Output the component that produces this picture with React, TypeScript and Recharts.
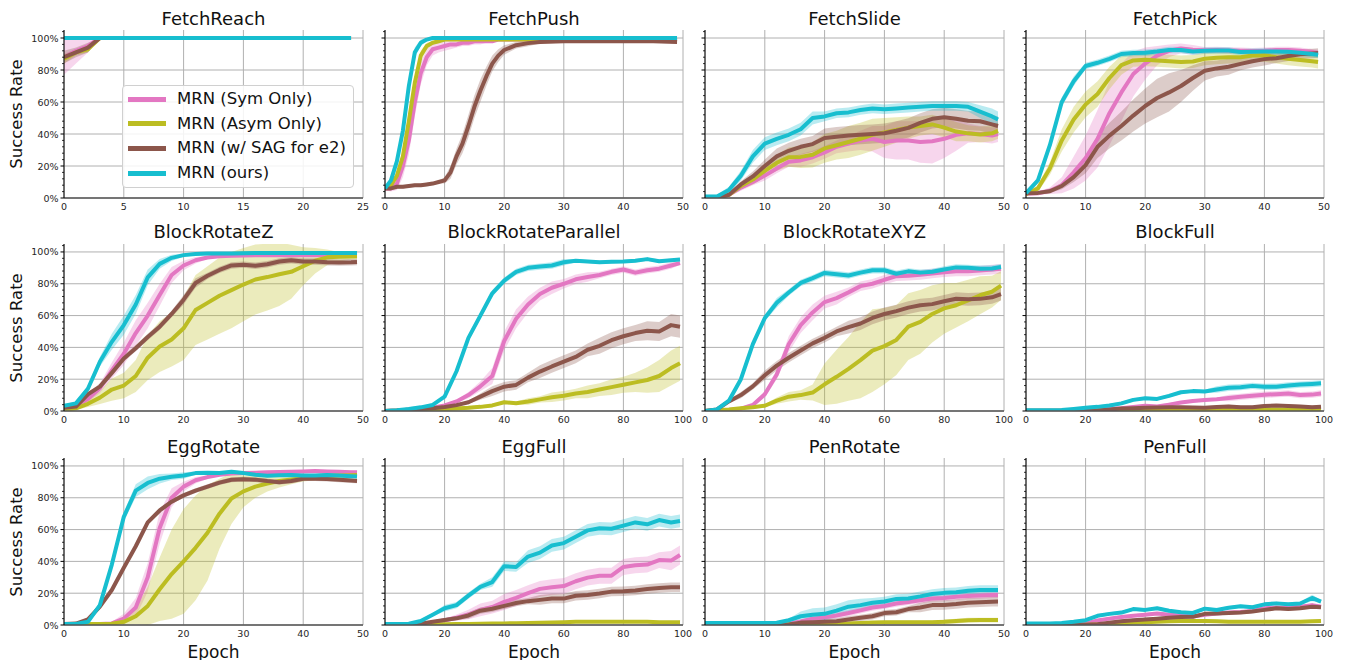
import React from 'react';
import { ComposedChart, Line, Area, XAxis, YAxis, CartesianGrid } from 'recharts';

const FONT = '"DejaVu Sans", "Liberation Sans", sans-serif';

const seriesNames = ['MRN (Sym Only)', 'MRN (Asym Only)', 'MRN (w/ SAG for e2)', 'MRN (ours)'];
const seriesColors = ['#e377c2', '#bcbd22', '#8c564b', '#17becf'];
const taskNames = [
  'FetchReach', 'FetchPush', 'FetchSlide', 'FetchPick',
  'BlockRotateZ', 'BlockRotateParallel', 'BlockRotateXYZ', 'BlockFull',
  'EggRotate', 'EggFull', 'PenRotate', 'PenFull',
];

const yMajorTicks = [0, 20, 40, 60, 80, 100];
const yAllTicks = [0, 4, 8, 12, 16, 20, 24, 28, 32, 36, 40, 44, 48, 52, 56, 60, 64, 68, 72, 76, 80, 84, 88, 92, 96, 100, 104];
const xTicks25 = [0, 5, 10, 15, 20, 25];
const xTicks50 = [0, 10, 20, 30, 40, 50];
const xTicks100 = [0, 20, 40, 60, 80, 100];

const grid50 = [0, 2, 4, 6, 8, 10, 12, 14, 16, 18, 20, 22, 24, 26, 28, 30, 32, 34, 36, 38, 40, 42, 44, 46, 48, 49];
const grid100 = [0, 4, 8, 12, 16, 20, 24, 28, 32, 36, 40, 44, 48, 52, 56, 60, 64, 68, 72, 76, 80, 84, 88, 92, 96, 99];

// FetchReach
const fetchReachEpochs = [0, 1, 2, 3, 4, 8, 12, 16, 20, 24];
const fetchReachSym = [88, 92, 95, 100, 100, 100, 100, 100, 100, 100];
const fetchReachSymBand = [11, 8, 4, 0, 0, 0, 0, 0, 0, 0];
const fetchReachAsym = [87, 91, 93, 100, 100, 100, 100, 100, 100, 100];
const fetchReachAsymBand = [3, 2, 2, 0, 0, 0, 0, 0, 0, 0];
const fetchReachSag = [88, 91, 94, 100, 100, 100, 100, 100, 100, 100];
const fetchReachSagBand = [4, 3, 3, 0, 0, 0, 0, 0, 0, 0];
const fetchReachOurs = [100, 100, 100, 100, 100, 100, 100, 100, 100, 100];
const fetchReachOursBand = [0, 0, 0, 0, 0, 0, 0, 0, 0, 0];

// FetchPush
const fetchPushEpochs = [0, 1, 2, 3, 4, 5, 6, 7, 8, 9, 10, 11, 12, 13, 14, 15, 16, 17, 18, 19, 20, 22, 24, 26, 30, 35, 40, 45, 49];
const fetchPushSym = [6, 6, 9, 20, 36, 60, 78, 88, 93, 94, 95, 96, 96, 97, 97, 98, 98, 98, 98, 99, 99, 99, 99, 99, 99, 99, 99, 99, 99];
const fetchPushSymBand = [1, 2, 4, 7, 9, 9, 7, 5, 4, 3, 3, 3, 2, 2, 2, 2, 2, 1, 1, 1, 1, 1, 1, 1, 1, 1, 1, 1, 1];
const fetchPushAsym = [6, 8, 14, 26, 48, 72, 89, 95, 97, 98, 99, 99, 99, 99, 99, 99, 99, 99, 99, 99, 99, 99, 99, 99, 99, 99, 99, 99, 99];
const fetchPushAsymBand = [1, 1, 2, 3, 4, 4, 3, 2, 1, 1, 1, 1, 1, 1, 1, 1, 1, 1, 1, 1, 1, 1, 1, 1, 1, 1, 1, 1, 1];
const fetchPushSag = [6, 6, 7, 7, 7.5, 8, 8, 8.5, 9, 10, 11, 16, 26, 34, 45, 57, 67, 76, 84, 89, 92.5, 95.5, 96.8, 97.5, 98, 98, 98, 98, 97.5];
const fetchPushSagBand = [1, 1, 1, 1, 1, 1, 1, 1, 1, 1, 2, 4, 5, 6, 7, 7, 7, 6, 5, 4, 3, 2, 2, 1, 1, 1, 1, 1, 1];
const fetchPushOurs = [6, 11, 23, 42, 70, 91, 97, 99, 100, 100, 100, 100, 100, 100, 100, 100, 100, 100, 100, 100, 100, 100, 100, 100, 100, 100, 100, 100, 100];
const fetchPushOursBand = [1, 2, 3, 4, 4, 3, 2, 1, 0, 0, 0, 0, 0, 0, 0, 0, 0, 0, 0, 0, 0, 0, 0, 0, 0, 0, 0, 0, 0];

// FetchSlide
const fetchSlideSym = [0, 0, 2, 6.5, 10, 14, 18.4, 22.6, 23.5, 25.5, 28.5, 32, 34, 36, 37, 35, 36, 36, 35, 35.5, 37, 39.5, 40.5, 40, 39, 40];
const fetchSlideSymBand = [0, 0, 1, 2, 2, 3, 3, 3, 4, 4, 4, 4, 5, 6, 8, 10, 12, 12, 13, 14, 12, 10, 6, 5, 5, 5];
const fetchSlideAsym = [0, 0, 2, 7.5, 11.5, 17, 22, 25.5, 25.7, 27, 31, 33, 35, 37, 39.5, 41, 42.5, 44, 45, 46, 44, 41.5, 40.4, 39.7, 40.4, 42];
const fetchSlideAsymBand = [0, 0, 1, 2, 3, 4, 5, 6, 7, 8, 9, 9, 10, 10, 10, 9, 8, 7, 6, 6, 6, 6, 5, 5, 5, 5];
const fetchSlideSag = [0, 0, 2, 8.5, 13.5, 20, 26, 29.5, 32, 33.7, 37.5, 38.3, 39, 39.6, 40, 40.5, 42, 43.8, 47, 49.5, 50.4, 49.5, 48.3, 48, 46, 45];
const fetchSlideSagBand = [0, 0, 1, 2, 3, 4, 5, 5, 5, 5, 6, 6, 6, 6, 6, 6, 6, 6, 6, 6, 6, 6, 6, 6, 6, 6];
const fetchSlideOurs = [1, 1, 5, 14, 26, 34, 37, 39.5, 43, 50, 51, 53, 53.5, 55, 56, 55.5, 56, 56.5, 57, 57.5, 57.5, 57.5, 57, 54, 51, 49];
const fetchSlideOursBand = [1, 1, 2, 3, 4, 4, 4, 4, 4, 4, 3, 3, 3, 3, 3, 3, 3, 3, 3, 3, 3, 3, 3, 4, 5, 5];

// FetchPick
const fetchPickSym = [2.7, 3, 4.5, 8, 16, 25, 37, 53, 66, 77.5, 84, 89, 92, 93.5, 92.6, 92.3, 92.5, 92.2, 92, 91.8, 92, 92.5, 92.5, 92, 91.2, 90.6];
const fetchPickSymBand = [1, 1, 2, 5, 10, 14, 18, 20, 18, 14, 10, 6, 4, 3, 3, 2, 2, 2, 2, 2, 2, 2, 2, 2, 2, 2];
const fetchPickAsym = [2.3, 6, 18.4, 36, 49, 58.5, 65, 75, 83, 86, 86.4, 86, 85.5, 85, 85.3, 87, 87.6, 88, 88, 89, 89.2, 88, 87, 86.2, 85.5, 85];
const fetchPickAsymBand = [1, 2, 4, 7, 8, 8, 8, 7, 6, 4, 4, 4, 4, 4, 4, 4, 4, 4, 4, 4, 4, 4, 4, 4, 4, 4];
const fetchPickSag = [3, 3.2, 4.2, 7.5, 13, 20.5, 32, 39, 45, 51.5, 57.5, 62.5, 66, 70, 75, 79.5, 81, 82, 83.8, 85.5, 86.8, 87.4, 88.7, 89.8, 90.3, 90.6];
const fetchPickSagBand = [1, 1, 1, 2, 3, 5, 7, 8, 9, 10, 11, 12, 12, 10, 8, 6, 5, 5, 4, 4, 4, 3, 3, 3, 3, 3];
const fetchPickOurs = [3, 11, 33, 60, 73, 82.5, 84.5, 87, 90, 90.6, 90.8, 91.5, 92.5, 92.5, 91.6, 92, 92.2, 92.2, 91.2, 91.4, 91.6, 91.6, 91.4, 90.8, 90, 89.5];
const fetchPickOursBand = [1, 2, 3, 3, 3, 2, 2, 2, 2, 2, 2, 2, 2, 2, 2, 2, 2, 2, 2, 2, 2, 2, 2, 2, 2, 2];

// BlockRotateZ
const blockZSym = [3, 3.5, 7.5, 14.3, 25.5, 36, 49, 60, 73, 85.5, 91.5, 94.8, 96.5, 97.3, 97.6, 97.8, 98, 98, 98, 98, 98, 98, 98, 98, 98, 98];
const blockZSymBand = [1, 1, 2, 3, 5, 7, 8, 8, 7, 5, 3, 2, 1, 1, 1, 1, 1, 1, 1, 1, 1, 1, 1, 1, 1, 1];
const blockZAsym = [0.6, 1.7, 4.5, 8.4, 13.5, 16, 22, 33.5, 40.5, 45, 52, 63.5, 68, 72.5, 76, 79.5, 82.7, 84.2, 86, 87.5, 91, 94.5, 96.6, 97, 97.2, 97.3];
const blockZAsymBand = [1, 1, 2, 4, 7, 8, 10, 14, 16, 17, 20, 22, 23, 24, 24, 23, 22, 21, 20, 17, 12, 8, 5, 3, 2, 2];
const blockZSag = [2, 2.8, 10.5, 15.3, 24, 33, 39.5, 46.5, 53, 61, 70, 80.5, 85, 88.7, 91.5, 92, 91.3, 92.3, 94, 94.8, 94, 94, 93.5, 93.3, 93.5, 93.7];
const blockZSagBand = [1, 1, 1, 2, 2, 2, 2, 2, 2, 2, 3, 3, 2, 2, 2, 2, 2, 2, 2, 2, 2, 2, 2, 2, 2, 2];
const blockZOurs = [3.2, 4.8, 14, 31, 43.5, 54, 67, 84, 92.5, 96.3, 98, 98.7, 99, 99, 99, 99.2, 99.3, 99.3, 99.3, 99.3, 99.3, 99.3, 99.3, 99.3, 99.3, 99.3];
const blockZOursBand = [1, 1, 2, 3, 5, 6, 6, 5, 3, 2, 1, 1, 1, 1, 1, 1, 1, 1, 1, 1, 1, 1, 1, 1, 1, 1];

// BlockRotateParallel
const blockParSym = [0, 0.3, 0.8, 1.3, 2, 3.5, 6, 10, 15.5, 22, 44, 58, 67, 73.5, 77.5, 80, 82.8, 84.2, 85.5, 87.5, 89, 87, 88.5, 89.5, 91.5, 93];
const blockParSymBand = [0, 0, 0, 0, 1, 1, 1, 2, 3, 5, 6, 6, 5, 4, 4, 3, 3, 3, 2, 2, 2, 2, 2, 2, 2, 1];
const blockParAsym = [0, 0.2, 0.5, 0.8, 1, 1.3, 1.6, 2, 2.6, 3.5, 5.5, 4.9, 6, 7.3, 8.6, 9.6, 11, 12, 13.5, 15, 16.5, 18, 19.5, 22, 27, 30];
const blockParAsymBand = [0, 0, 0, 0, 0, 0, 1, 1, 1, 1, 1, 1, 2, 2, 3, 3, 3, 4, 4, 5, 5, 6, 8, 10, 11, 11];
const blockParSag = [0, 0.3, 0.8, 1.3, 1.8, 2.5, 3.7, 5.5, 9, 12.5, 15.3, 16.4, 21, 24.8, 28, 31, 34, 38.5, 41, 44.5, 47, 49, 50.5, 50, 54, 53];
const blockParSagBand = [0, 0, 0, 0, 1, 1, 1, 1, 2, 3, 3, 3, 3, 4, 4, 4, 4, 4, 5, 5, 5, 5, 6, 6, 7, 7];
const blockParOurs = [0, 0.5, 1.3, 2.3, 3.8, 9, 25, 46, 60, 74, 82, 87.5, 90, 90.8, 91.5, 93.5, 94.5, 94, 93.6, 93.8, 94, 94.5, 95.5, 94.2, 94.8, 95.2];
const blockParOursBand = [0, 0, 1, 1, 1, 1, 2, 2, 2, 2, 2, 2, 2, 2, 2, 2, 1, 1, 1, 1, 1, 1, 1, 1, 1, 1];

// BlockRotateXYZ
const blockXyzSym = [0, 0.3, 0.7, 1.5, 3.8, 10.5, 23, 42, 54, 62, 68.5, 71, 74.6, 78.5, 80, 82.5, 84.8, 85, 85.6, 86.4, 87.3, 87.8, 87.8, 88.3, 88.9, 89.5];
const blockXyzSymBand = [0, 0, 0, 1, 1, 2, 3, 5, 5, 5, 4, 4, 3, 3, 3, 3, 3, 3, 3, 3, 3, 3, 3, 3, 3, 3];
const blockXyzAsym = [0, 0.5, 1, 1.8, 2.4, 3.3, 6.5, 9, 10, 11.6, 16.8, 21.5, 26.5, 32, 38, 40.8, 44.7, 53, 56, 61, 64.5, 66.5, 69.5, 72.8, 75, 78.8];
const blockXyzAsymBand = [0, 0, 0, 0, 0, 1, 2, 3, 3, 5, 13, 17, 20, 24, 26, 24, 22, 21, 20, 18, 16, 14, 13, 12, 10, 9];
const blockXyzSag = [0, 1, 6, 10, 15.5, 22.5, 28.5, 33.5, 38, 42.5, 46, 50, 52.7, 55, 58.5, 61, 62.8, 65, 66.5, 67.2, 69, 70.6, 70.2, 70.5, 71.5, 73.5];
const blockXyzSagBand = [0, 0, 1, 2, 2, 3, 3, 3, 3, 3, 3, 3, 4, 4, 4, 4, 4, 4, 4, 4, 4, 4, 4, 4, 4, 4];
const blockXyzOurs = [0, 1, 6.5, 20, 42, 58.5, 68, 74.5, 80.5, 83.5, 86.8, 86, 85.2, 87, 88.5, 88.5, 86.3, 87.8, 87, 87.5, 89, 90.3, 90, 89.5, 89.6, 90.5];
const blockXyzOursBand = [0, 0, 1, 2, 2, 2, 3, 2, 2, 2, 2, 2, 2, 2, 2, 2, 2, 2, 2, 2, 2, 2, 2, 2, 2, 2];

// BlockFull
const blockFullSym = [0.3, 0.3, 0.3, 0.3, 0.3, 0.4, 0.6, 1.5, 1.8, 2.5, 3.3, 2.8, 4, 5.3, 6.3, 6.9, 7.4, 8.2, 8.9, 9.6, 10.2, 10.6, 11, 10, 10.3, 11];
const blockFullSymBand = [0, 0, 0, 0, 0, 0, 0, 1, 1, 1, 1, 1, 1, 1, 1, 1, 1, 2, 2, 2, 2, 2, 2, 2, 2, 2];
const blockFullAsym = [0.2, 0.2, 0.2, 0.2, 0.2, 0.2, 0.3, 0.4, 0.5, 0.6, 0.6, 0.7, 0.7, 0.8, 0.8, 0.8, 0.8, 0.9, 0.9, 1, 1, 1, 1, 1, 1, 1];
const blockFullAsymBand = [0, 0, 0, 0, 0, 0, 0, 0.5, 0.5, 0.5, 0.5, 0.5, 0.5, 0.5, 0.5, 0.5, 0.5, 0.5, 0.5, 0.5, 0.5, 0.5, 0.5, 0.5, 0.5, 0.5];
const blockFullSag = [0, 0, 0, 0, 0, 0, 0.3, 1, 1.5, 1.8, 2.1, 2.2, 2.3, 2.3, 2.2, 2.1, 2.5, 2.9, 2.3, 2.3, 3.2, 3.4, 3.2, 2.8, 2.3, 2.7];
const blockFullSagBand = [0, 0, 0, 0, 0, 0, 0, 1, 1, 1, 1, 1, 1, 1, 1, 1, 1, 1, 1, 1, 1, 1, 1, 1, 1, 1];
const blockFullOurs = [0.5, 0.5, 0.5, 0.6, 1.3, 2, 2.6, 3.5, 4.8, 7, 8, 7.6, 9.5, 11.8, 12.5, 12.3, 13.5, 14.6, 15, 15.8, 15.2, 15.3, 16, 16.6, 17, 17.4];
const blockFullOursBand = [0, 0, 0, 0, 0, 1, 1, 1, 1, 1, 1, 1, 1, 1, 1, 1, 2, 2, 2, 2, 2, 2, 2, 2, 2, 2];

// EggRotate
const eggRotSym = [0.6, 0.6, 0.6, 0.6, 1, 4, 11, 30, 61, 80, 87, 91, 93, 94.5, 95.2, 95.6, 95.8, 96, 96.2, 96.3, 96.5, 96.8, 96.5, 96.3, 96.1, 96];
const eggRotSymBand = [0, 0, 0, 0, 1, 3, 6, 9, 10, 6, 3, 2, 1, 1, 1, 1, 1, 1, 1, 1, 1, 1, 1, 1, 1, 1];
const eggRotAsym = [0.6, 0.6, 0.6, 0.6, 0.8, 2, 5.5, 12, 22.5, 32, 40, 48.5, 58, 70, 79.5, 84, 87, 89, 90.5, 91.5, 92.2, 93, 93.8, 94, 94.2, 94.3];
const eggRotAsymBand = [0, 0, 0, 0, 1, 2, 5, 12, 20, 28, 33, 33, 30, 22, 16, 10, 7, 5, 4, 3, 2, 2, 2, 2, 2, 2];
const eggRotSag = [0.6, 0.9, 3.5, 11.5, 22, 36, 49.5, 64.5, 72, 77.5, 81.5, 84.5, 87, 89.5, 91.3, 91.7, 91.4, 90.5, 89.8, 90.5, 92, 92, 91.8, 91.3, 90.8, 90.6];
const eggRotSagBand = [0.5, 0.5, 1, 1.5, 1.5, 1.5, 1.5, 1.5, 1.5, 1.5, 1.5, 1.5, 1.5, 1.5, 1.5, 1.5, 1.5, 1.5, 1.5, 1.5, 1.5, 1.5, 1.5, 1.5, 1.5, 1.5];
const eggRotOurs = [0.6, 0.6, 2, 12.5, 38, 68, 84.5, 89.3, 92, 93.2, 94, 95.5, 95.8, 95.5, 96.3, 95.5, 94.5, 93.9, 94.2, 94.3, 94, 94, 94.3, 94, 93.6, 93.3];
const eggRotOursBand = [0, 0, 1, 2, 3, 3, 4, 4, 3, 2, 2, 1, 1, 1, 1, 1, 1, 1, 1, 1, 1, 1, 1, 1, 1, 1];

// EggFull
const eggFullSym = [0.5, 0.5, 0.5, 0.6, 1.5, 3, 4.6, 6.6, 9.5, 11.3, 14.5, 17, 20, 22.7, 23.8, 24.5, 27.5, 29.8, 31, 31, 36.5, 37.6, 38, 40.8, 40.5, 44];
const eggFullSymBand = [0, 0, 0, 0, 1, 1, 2, 3, 4, 4, 5, 5, 5, 5, 5, 5, 5, 5, 5, 5, 5, 5, 5, 5, 6, 6];
const eggFullAsym = [0.3, 0.3, 0.3, 0.3, 0.4, 0.5, 0.6, 0.7, 0.8, 0.9, 1, 1.1, 1.2, 1.4, 1.6, 1.8, 2, 2, 2, 2, 2, 2, 2, 1.8, 1.8, 1.7];
const eggFullAsymBand = [0, 0, 0, 0, 0, 0, 0, 0, 0.5, 0.5, 0.5, 0.5, 0.5, 0.5, 0.7, 0.7, 0.7, 0.7, 0.7, 0.7, 0.7, 0.7, 0.7, 0.7, 0.7, 0.7];
const eggFullSag = [0.5, 0.5, 0.5, 0.8, 2, 3.2, 4.2, 6, 9, 10.2, 12, 13.8, 15, 15.8, 16.7, 16.6, 18.4, 18.8, 19.8, 21, 21.2, 21.7, 22.6, 23.2, 23.7, 23.7];
const eggFullSagBand = [0, 0, 0, 0, 1, 1, 1, 2, 2, 2, 2, 2, 2, 3, 3, 3, 3, 3, 3, 3, 3, 3, 3, 3, 3, 3];
const eggFullOurs = [0.6, 0.6, 0.8, 2.5, 6.5, 10.5, 12.5, 18.5, 24, 27, 37, 36.5, 43, 45.5, 50, 51.5, 55.5, 59.5, 60.8, 60.5, 62.5, 64.5, 63.3, 66, 64.5, 65.4];
const eggFullOursBand = [0, 0, 0, 1, 1, 2, 2, 2, 2, 3, 3, 3, 4, 4, 4, 4, 4, 4, 4, 4, 4, 4, 4, 4, 4, 4];

// PenRotate
const penRotSym = [0.6, 0.6, 0.6, 0.6, 0.6, 0.6, 0.6, 0.8, 2.2, 4, 4.8, 6, 7.5, 9.2, 11, 12, 13.5, 14.5, 15.5, 16.6, 17, 17.7, 18.2, 18.5, 18.9, 18.9];
const penRotSymBand = [0, 0, 0, 0, 0, 0, 0, 0, 1, 1, 2, 2, 2, 2, 2, 2, 2, 2, 2, 2, 2, 2, 2, 2, 2, 2];
const penRotAsym = [0.3, 0.3, 0.3, 0.3, 0.3, 0.3, 0.3, 0.4, 0.5, 0.6, 0.7, 0.8, 0.9, 1.2, 1.5, 1.7, 1.8, 1.8, 1.8, 1.8, 2, 2.5, 3, 3.1, 3.1, 3.1];
const penRotAsymBand = [0, 0, 0, 0, 0, 0, 0, 0, 0, 0, 0.5, 0.5, 0.5, 1, 1, 1, 1, 1, 1, 1, 1.5, 1.5, 1.5, 1.5, 1.5, 1.5];
const penRotSag = [0.2, 0.2, 0.2, 0.2, 0.2, 0.2, 0.2, 0.3, 1.5, 1.8, 2, 2.3, 3.5, 4.5, 5.5, 7.5, 8, 10, 11, 12.5, 12.6, 13.2, 14, 14.3, 14.6, 14.7];
const penRotSagBand = [0, 0, 0, 0, 0, 0, 0, 0, 1, 1, 2, 2, 2, 2, 2, 2, 2, 2, 3, 3, 3, 3, 3, 3, 3, 3];
const penRotOurs = [1.3, 1.3, 1.3, 1.3, 1.3, 1.3, 1.4, 3, 5.5, 6.5, 7, 9, 11.5, 12.5, 14, 14.8, 16.4, 16.7, 18, 19.5, 20.2, 20.6, 21.5, 22, 22, 22];
const penRotOursBand = [0, 0, 0, 0, 0, 0, 0, 1, 3, 4, 4, 4, 4, 4, 3, 3, 3, 3, 3, 3, 3, 3, 3, 3, 3, 3];

// PenFull
const penFullSym = [0.5, 0.5, 0.5, 0.5, 0.5, 0.8, 2.8, 4, 5, 5.8, 6.5, 7.2, 6.5, 6, 5.3, 6.5, 7.3, 7.8, 8.2, 8.8, 10.5, 11, 10.8, 11.5, 12.5, 11.5];
const penFullSymBand = [0, 0, 0, 0, 0, 0, 1, 1, 1, 1, 1, 1, 1, 1, 1, 1, 1, 1, 1, 1, 1, 1, 1, 1, 1, 1];
const penFullAsym = [0.2, 0.2, 0.2, 0.2, 0.2, 0.2, 0.3, 0.4, 1, 1.5, 1.7, 2, 2.4, 2.5, 2.5, 2.5, 2.3, 2.1, 2, 2, 2, 2, 2, 2.1, 2.3, 2.5];
const penFullAsymBand = [0, 0, 0, 0, 0, 0, 0, 0, 0.5, 0.5, 0.5, 0.5, 0.5, 0.5, 0.5, 0.5, 0.5, 0.5, 0.5, 0.5, 0.5, 0.5, 0.5, 0.5, 0.5, 0.5];
const penFullSag = [0.1, 0.1, 0.1, 0.1, 0.1, 0.1, 0.5, 1.5, 2.3, 3, 3.5, 4, 4.6, 5, 5.2, 7, 7.3, 7.6, 7.8, 8.5, 9.5, 10.5, 10, 10.5, 11.5, 11.1];
const penFullSagBand = [0, 0, 0, 0, 0, 0, 0, 1, 1, 1, 1, 1, 1, 1, 1, 1, 1, 1, 1, 1, 1, 1, 1, 1, 1, 1];
const penFullOurs = [1, 1, 1, 1.3, 2, 3, 5.8, 7, 7.8, 10, 9.5, 10.5, 9, 8, 7.6, 10.3, 9.4, 10.9, 11.8, 11.2, 13, 13.6, 13, 13.5, 17, 14.7];
const penFullOursBand = [0, 0, 0, 0, 0, 1, 1, 1, 1, 1, 1, 1, 1, 1, 1, 1, 1, 1, 1, 1, 1, 1, 1, 1, 2, 1];

type Task = {
  name: string;
  epochs: number[];
  xMax: number;
  xTicks: number[];
  means: number[][];
  bands: number[][];
};

const tasks: Task[] = [
  { name: taskNames[0], epochs: fetchReachEpochs, xMax: 25, xTicks: xTicks25,
    means: [fetchReachSym, fetchReachAsym, fetchReachSag, fetchReachOurs],
    bands: [fetchReachSymBand, fetchReachAsymBand, fetchReachSagBand, fetchReachOursBand] },
  { name: taskNames[1], epochs: fetchPushEpochs, xMax: 50, xTicks: xTicks50,
    means: [fetchPushSym, fetchPushAsym, fetchPushSag, fetchPushOurs],
    bands: [fetchPushSymBand, fetchPushAsymBand, fetchPushSagBand, fetchPushOursBand] },
  { name: taskNames[2], epochs: grid50, xMax: 50, xTicks: xTicks50,
    means: [fetchSlideSym, fetchSlideAsym, fetchSlideSag, fetchSlideOurs],
    bands: [fetchSlideSymBand, fetchSlideAsymBand, fetchSlideSagBand, fetchSlideOursBand] },
  { name: taskNames[3], epochs: grid50, xMax: 50, xTicks: xTicks50,
    means: [fetchPickSym, fetchPickAsym, fetchPickSag, fetchPickOurs],
    bands: [fetchPickSymBand, fetchPickAsymBand, fetchPickSagBand, fetchPickOursBand] },
  { name: taskNames[4], epochs: grid50, xMax: 50, xTicks: xTicks50,
    means: [blockZSym, blockZAsym, blockZSag, blockZOurs],
    bands: [blockZSymBand, blockZAsymBand, blockZSagBand, blockZOursBand] },
  { name: taskNames[5], epochs: grid100, xMax: 100, xTicks: xTicks100,
    means: [blockParSym, blockParAsym, blockParSag, blockParOurs],
    bands: [blockParSymBand, blockParAsymBand, blockParSagBand, blockParOursBand] },
  { name: taskNames[6], epochs: grid100, xMax: 100, xTicks: xTicks100,
    means: [blockXyzSym, blockXyzAsym, blockXyzSag, blockXyzOurs],
    bands: [blockXyzSymBand, blockXyzAsymBand, blockXyzSagBand, blockXyzOursBand] },
  { name: taskNames[7], epochs: grid100, xMax: 100, xTicks: xTicks100,
    means: [blockFullSym, blockFullAsym, blockFullSag, blockFullOurs],
    bands: [blockFullSymBand, blockFullAsymBand, blockFullSagBand, blockFullOursBand] },
  { name: taskNames[8], epochs: grid50, xMax: 50, xTicks: xTicks50,
    means: [eggRotSym, eggRotAsym, eggRotSag, eggRotOurs],
    bands: [eggRotSymBand, eggRotAsymBand, eggRotSagBand, eggRotOursBand] },
  { name: taskNames[9], epochs: grid100, xMax: 100, xTicks: xTicks100,
    means: [eggFullSym, eggFullAsym, eggFullSag, eggFullOurs],
    bands: [eggFullSymBand, eggFullAsymBand, eggFullSagBand, eggFullOursBand] },
  { name: taskNames[10], epochs: grid50, xMax: 50, xTicks: xTicks50,
    means: [penRotSym, penRotAsym, penRotSag, penRotOurs],
    bands: [penRotSymBand, penRotAsymBand, penRotSagBand, penRotOursBand] },
  { name: taskNames[11], epochs: grid100, xMax: 100, xTicks: xTicks100,
    means: [penFullSym, penFullAsym, penFullSag, penFullOurs],
    bands: [penFullSymBand, penFullAsymBand, penFullSagBand, penFullOursBand] },
];

// Layout (pixel positions of plot areas)
const colLeft = [64, 385, 705, 1026];
const colRight = [363, 683, 1004, 1324];
const rowTop = [30, 244, 458];
const rowBottom = [198, 411, 625];
const titleCenterY = [19, 232, 446.5];

const ML = 50;
const MT = 4;
const MR = 12;
const XH = 24;
const TICK_SIZE = 4;
const TICK_MARGIN = 2;

function buildRows(t: Task) {
  return t.epochs.map((e, i) => {
    const row: Record<string, any> = { epoch: e };
    t.means.forEach((m, k) => {
      row['m' + k] = m[i];
      row['b' + k] = [m[i] - t.bands[k][i], m[i] + t.bands[k][i]];
    });
    return row;
  });
}

const YTick = (props: any) => {
  const { x, y, payload, showLabel } = props;
  const v = payload.value;
  const major = v % 20 === 0 && v <= 100;
  const ax = x + TICK_MARGIN + TICK_SIZE;
  const len = major ? 3.5 : 2;
  return (
    <g>
      <line x1={ax - len} x2={ax} y1={y} y2={y} stroke="#000" strokeWidth={major ? 1 : 0.8} />
      {showLabel && major ? (
        <text x={ax - 5.5} y={y} textAnchor="end" dominantBaseline="central" fontSize={9.5} fill="#262626" fontFamily={FONT}>
          {`${v}%`}
        </text>
      ) : null}
    </g>
  );
};

function Panel({ task, col, row }: { task: Task; col: number; row: number }) {
  const left = colLeft[col];
  const top = rowTop[row];
  const pw = colRight[col] - left;
  const ph = rowBottom[row] - top;
  const data = buildRows(task);
  return (
    <div style={{ position: 'absolute', left: left - ML, top: top - MT }}>
      <ComposedChart
        width={ML + pw + MR}
        height={MT + ph + XH}
        data={data}
        margin={{ top: MT, right: MR, bottom: 0, left: 0 }}
      >
        <CartesianGrid
          stroke="#b0b0b0"
          strokeWidth={1}
          horizontalValues={yMajorTicks}
          verticalValues={task.xTicks}
        />
        {task.means.map((_, k) => (
          <Area
            key={'a' + k}
            type="linear"
            dataKey={'b' + k}
            stroke="none"
            fill={seriesColors[k]}
            fillOpacity={0.3}
            isAnimationActive={false}
            dot={false}
            activeDot={false}
          />
        ))}
        {task.means.map((_, k) => (
          <Line
            key={'l' + k}
            type="linear"
            dataKey={'m' + k}
            stroke={seriesColors[k]}
            strokeWidth={4}
            strokeLinejoin="round"
            dot={false}
            activeDot={false}
            isAnimationActive={false}
          />
        ))}
        <XAxis
          dataKey="epoch"
          type="number"
          domain={[0, task.xMax]}
          ticks={task.xTicks}
          interval={0}
          height={XH}
          tickLine={false}
          tickSize={0}
          tickMargin={5}
          axisLine={{ stroke: '#555', strokeWidth: 1.5 }}
          tick={{ fontSize: 9.5, fill: '#262626', fontFamily: FONT }}
          allowDataOverflow
        />
        <YAxis
          type="number"
          domain={[0, 105]}
          ticks={yAllTicks}
          interval={0}
          width={ML}
          allowDataOverflow
          tickLine={false}
          tickSize={TICK_SIZE}
          tickMargin={TICK_MARGIN}
          axisLine={{ stroke: '#000', strokeWidth: 1 }}
          tick={<YTick showLabel={col === 0} />}
        />
      </ComposedChart>
    </div>
  );
}

export default function App() {
  return (
    <div style={{ position: 'absolute', left: 0, top: 0, width: 1345, height: 660, background: '#fff', fontFamily: FONT, overflow: 'hidden' }}>
      {tasks.map((t, i) => {
        const col = i % 4;
        const row = Math.floor(i / 4);
        return <Panel key={t.name} task={t} col={col} row={row} />;
      })}
      {tasks.map((t, i) => {
        const col = i % 4;
        const row = Math.floor(i / 4);
        return (
          <div
            key={'title' + i}
            style={{
              position: 'absolute',
              left: colLeft[col],
              width: colRight[col] - colLeft[col],
              top: titleCenterY[row] - 12,
              height: 24,
              lineHeight: '24px',
              textAlign: 'center',
              fontSize: 18,
              color: '#111',
            }}
          >
            {t.name}
          </div>
        );
      })}
      {rowTop.map((rt, r) => (
        <div
          key={'yl' + r}
          style={{
            position: 'absolute',
            left: 17 - 100,
            top: (rt + rowBottom[r]) / 2 - 11,
            width: 200,
            height: 22,
            lineHeight: '22px',
            textAlign: 'center',
            fontSize: 16.5,
            color: '#111',
            transform: 'rotate(-90deg)',
          }}
        >
          Success Rate
        </div>
      ))}
      {colLeft.map((cl, c) => (
        <div
          key={'xl' + c}
          style={{
            position: 'absolute',
            left: cl,
            width: colRight[c] - cl,
            top: 651.5 - 11,
            height: 22,
            lineHeight: '22px',
            textAlign: 'center',
            fontSize: 17,
            color: '#111',
          }}
        >
          Epoch
        </div>
      ))}
      <div
        style={{
          position: 'absolute',
          left: 122,
          top: 85,
          width: 232,
          height: 103,
          background: 'rgba(255,255,255,0.85)',
          border: '1px solid #d0d0d0',
          borderRadius: 4,
          boxSizing: 'border-box',
          zIndex: 5,
        }}
      >
        {seriesNames.map((n, k) => (
          <div key={n} style={{ position: 'absolute', left: 0, top: 13 + 24.7 * k - 11, height: 22, width: 230 }}>
            <div style={{ position: 'absolute', left: 5, top: 8.5, width: 38, height: 5, background: seriesColors[k] }} />
            <div style={{ position: 'absolute', left: 54, top: 0, lineHeight: '22px', fontSize: 16.5, color: '#111', whiteSpace: 'nowrap' }}>{n}</div>
          </div>
        ))}
      </div>
    </div>
  );
}
